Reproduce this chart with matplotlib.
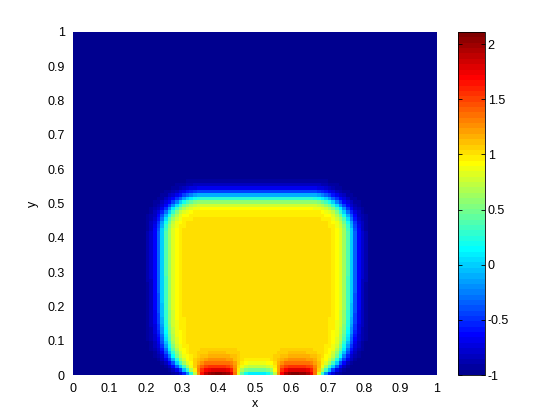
import numpy as np
import matplotlib
matplotlib.use('Agg')
from matplotlib import pyplot as plt
from matplotlib.colors import ListedColormap

# grid cells per side
n = 100

# rounded box holding the "1" phase: left, right, top
box = [0.245, 0.765, 0.522]
corner_r = 0.11
width = 0.027         # interface thickness
inside_val = 1.02
outside_val = -1.0
# the side walls bend inwards where they meet the bottom wall
wall_inset = 0.085
wall_decay = 0.048

# spots sitting on the bottom wall (two hot ones, one dip in between)
spot_x = [0.397, 0.617, 0.505]
spot_amp = [1.2, 1.2, -1.15]
spot_sx = [0.057, 0.057, 0.058]
spot_decay = [0.04, 0.04, 0.025]
spot_cut = [0.06, 0.06, 0.04]

clim = [-1, 2.11]
ticks = [0, 0.1, 0.2, 0.3, 0.4, 0.5, 0.6, 0.7, 0.8, 0.9, 1]
tick_lbls = ['0', '0.1', '0.2', '0.3', '0.4', '0.5', '0.6', '0.7', '0.8', '0.9', '1']
cb_ticks = [-1, -0.5, 0, 0.5, 1, 1.5, 2]
cb_lbls = ['-1', '-0.5', '0', '0.5', '1', '1.5', '2']


def matlab_jet(m=64):
    """same table as matlab's jet(m)"""
    k = int(np.ceil(m / 4))
    u = np.concatenate([np.arange(1, k + 1) / k, np.ones(k - 1), np.arange(k, 0, -1) / k])
    g = int(np.ceil(k / 2)) - (m % 4 == 1) + np.arange(1, len(u) + 1)
    r = g + k
    b = g - k
    g = g[g <= m]
    r = r[r <= m]
    b = b[b >= 1]
    J = np.zeros((m, 3))
    J[r - 1, 0] = u[:len(r)]
    J[g - 1, 1] = u[:len(g)]
    J[b - 1, 2] = u[len(u) - len(b):]
    return ListedColormap(J)


def box_dist(X, Y):
    """signed distance (roughly) to the rounded box, negative inside"""
    cx = (box[0] + box[1]) / 2
    cy = box[2] - 1.0
    hx = (box[1] - box[0]) / 2 - corner_r - wall_inset * np.exp(-Y / wall_decay)
    hy = 1.0 - corner_r
    qx = np.abs(X - cx) - hx
    qy = np.abs(Y - cy) - hy
    outside = np.hypot(np.maximum(qx, 0), np.maximum(qy, 0))
    inside = np.minimum(np.maximum(qx, qy), 0)
    return outside + inside - corner_r


edges = np.linspace(0, 1, n + 1)
mid = (edges[:-1] + edges[1:]) / 2
X, Y = np.meshgrid(mid, mid)

d = box_dist(X, Y)
Z = (inside_val + outside_val) / 2 + (inside_val - outside_val) / 2 * np.tanh(-d / width)
for i in range(len(spot_x)):
    fx = np.exp(-((X - spot_x[i]) / spot_sx[i]) ** 4)
    fy = np.exp(-Y / spot_decay[i] - (Y / spot_cut[i]) ** 2)
    Z += spot_amp[i] * fx * fy

plt.rcParams['font.family'] = ['Liberation Sans', 'DejaVu Sans']
plt.rcParams['font.size'] = 9

fig = plt.figure(figsize=(5.6, 4.2), dpi=100)
ax = fig.add_axes([73 / 560, 45 / 420, 364 / 560, 343 / 420])
cax = fig.add_axes([458 / 560, 45 / 420, 27 / 560, 343 / 420])

pc = ax.pcolormesh(edges, edges, Z, cmap=matlab_jet(64), vmin=clim[0], vmax=clim[1], shading='flat')
ax.set_xlim(0, 1)
ax.set_ylim(0, 1)
ax.set_xticks(ticks)
ax.set_xticklabels(tick_lbls)
ax.set_yticks(ticks)
ax.set_yticklabels(tick_lbls)
ax.tick_params(length=0, pad=6)
for s in ax.spines.values():
    s.set_visible(False)
ax.set_xlabel('x', labelpad=2)
ax.set_ylabel('y', labelpad=6)

cb = fig.colorbar(pc, cax=cax)
cb.set_ticks(cb_ticks)
cb.set_ticklabels(cb_lbls)
cb.outline.set_linewidth(0.6)
cax.tick_params(direction='in', length=3, width=0.6, left=True, right=True, pad=2)

fig.savefig('out.png', dpi=100)
